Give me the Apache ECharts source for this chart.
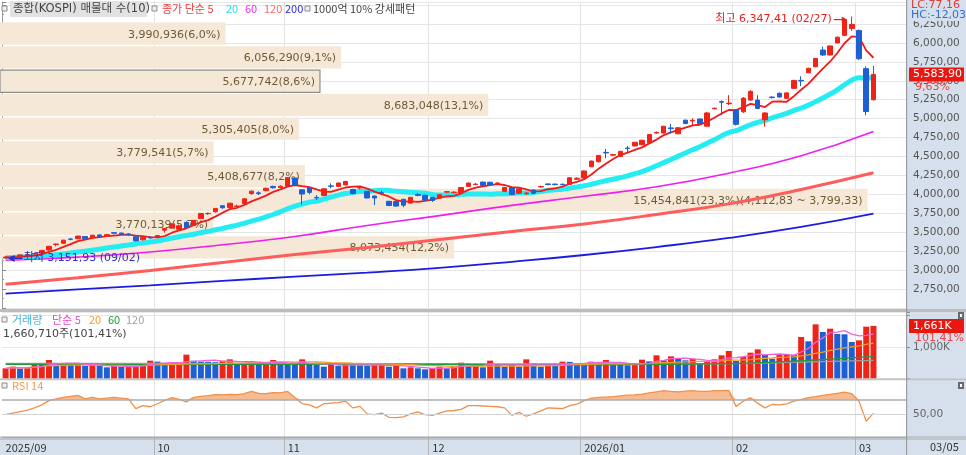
<!DOCTYPE html>
<html><head><meta charset="utf-8">
<script src="https://cdn.jsdelivr.net/npm/echarts@6/dist/echarts.min.js"></script>
<style>html,body{margin:0;padding:0;background:#fff}#c{width:966px;height:455px}</style>
</head><body><div id="c"></div>
<script>
// ---------------- DATA ----------------
const dates = [
'2025-09-02','2025-09-03','2025-09-04','2025-09-05','2025-09-08','2025-09-09','2025-09-10','2025-09-11','2025-09-12','2025-09-15',
'2025-09-16','2025-09-17','2025-09-18','2025-09-19','2025-09-22','2025-09-23','2025-09-24','2025-09-25','2025-09-26','2025-09-29','2025-09-30',
'2025-10-01','2025-10-02','2025-10-10','2025-10-13','2025-10-14','2025-10-15','2025-10-16','2025-10-17','2025-10-20','2025-10-21',
'2025-10-22','2025-10-23','2025-10-24','2025-10-27','2025-10-28','2025-10-29','2025-10-30','2025-10-31',
'2025-11-03','2025-11-04','2025-11-05','2025-11-06','2025-11-07','2025-11-10','2025-11-11','2025-11-12','2025-11-13','2025-11-14',
'2025-11-17','2025-11-18','2025-11-19','2025-11-20','2025-11-21','2025-11-24','2025-11-25','2025-11-26','2025-11-27','2025-11-28',
'2025-12-01','2025-12-02','2025-12-03','2025-12-04','2025-12-05','2025-12-08','2025-12-09','2025-12-10','2025-12-11','2025-12-12',
'2025-12-15','2025-12-16','2025-12-17','2025-12-18','2025-12-19','2025-12-22','2025-12-23','2025-12-24','2025-12-26','2025-12-29','2025-12-30',
'2026-01-02','2026-01-05','2026-01-06','2026-01-07','2026-01-08','2026-01-09','2026-01-12','2026-01-13','2026-01-14','2026-01-15',
'2026-01-16','2026-01-19','2026-01-20','2026-01-21','2026-01-22','2026-01-23','2026-01-26','2026-01-27','2026-01-28','2026-01-29','2026-01-30',
'2026-02-02','2026-02-03','2026-02-04','2026-02-05','2026-02-06','2026-02-09','2026-02-10','2026-02-11','2026-02-12','2026-02-13',
'2026-02-19','2026-02-20','2026-02-23','2026-02-24','2026-02-25','2026-02-26','2026-02-27',
'2026-03-03','2026-03-04','2026-03-05'
];
const padCats = ['p1','p2','p3','p4'];

const opens = [
3160,3175,3170,3200,3212,3225,3265,3338,3355,3410,
3415,3445,3425,3465,3450,3495,3490,3478,3440,3400,
3435,
3430,3528,3556,3540,3630,3590,3680,3745,3770,3850,
3825,3840,3880,4010,4020,4050,4105,4090,
4110,4215,4060,4090,3960,3985,4112,4105,4125,4065,
4085,4040,3978,4022,3908,3905,3935,3885,4000,3988,
3960,3950,4030,4025,4018,4105,4130,4162,4160,4145,
4040,4090,4015,4010,4058,4098,4138,4136,4135,4132,
4200,
4215,4365,4430,4555,4518,4500,4612,4640,4655,4680,
4810,4810,4878,4800,4980,4970,4995,4900,5130,5225,
5198,
5110,5090,5245,5245,4985,5285,5335,5268,5400,5505,
5605,5685,5905,5840,6000,6100,6190,
6165,5660,5250
];
const closes = [
3172.35,3164.63,3200.83,3205.12,3219.59,3260.05,3314.53,3344.70,3395.54,3407.31,
3449.62,3413.28,3461.30,3445.24,3468.65,3486.19,3472.14,3471.11,3386.05,3431.21,
3424.60,
3455.83,3549.21,3610.60,3584.55,3561.81,3657.28,3748.37,3748.89,3814.69,3823.84,
3883.68,3845.56,3941.59,4042.83,4010.41,4081.15,4086.89,4107.50,
4221.87,4121.74,4004.42,4026.45,3953.76,4073.24,4106.39,4150.39,4170.63,4011.57,
4089.25,3953.62,3952,4015,3853.26,3846.06,3857.78,3960.87,3986.91,3926.59,
3920,3995,4036,4030,4090,4150,4135,4118,4125,4150,
4092,4000,4072,4018,4015,4105,4130,4129,4128,4220,
4214.17,
4309,4440,4515,4548,4525,4568,4605,4688,4715,4790,
4818,4900,4868,4880,4935,4978,4935,5075,5138,5218,
5205,
4925,5270,5360,5135,5075,5278,5285,5340,5505,5498,
5665,5795,5840,5960,6075,6307.33,6245,
5790,5093.4,5583.90
];
const highs = [
3180,3185,3205,3222,3225,3265,3320,3350,3400,3425,
3455,3450,3465,3470,3475,3500,3495,3490,3445,3440,
3442,
3460,3555,3617,3600,3646,3660,3752,3760,3820,3855,
3890,3865,3950,4050,4040,4090,4115,4120,
4226,4225,4070,4100,3990,4080,4145,4155,4180,4075,
4100,4045,3990,4050,3915,3912,3940,3965,4015,3995,
3968,4000,4045,4040,4095,4155,4150,4170,4168,4160,
4098,4095,4078,4030,4065,4115,4145,4142,4140,4225,
4225,
4315,4445,4520,4600,4535,4572,4640,4692,4720,4795,
4830,4905,4930,4885,4985,5004,5000,5090,5145,5240,
5310,
5125,5285,5375,5310,5085,5295,5345,5348,5512,5560,
5672,5800,5950,5965,6085,6320,6347.41,
6175,5690,5695
];
const lows = [
3151.93,3155,3165,3195,3200,3218,3258,3315,3348,3395,
3410,3400,3420,3435,3445,3470,3465,3455,3380,3395,
3415,
3425,3495,3545,3520,3550,3585,3675,3730,3760,3810,
3810,3830,3875,3995,3990,4040,4075,4080,
4105,4110,3867,4000,3925,3975,4080,4095,4120,4000,
4065,3945,3860,3990,3845,3835,3830,3880,3975,3915,
3900,3940,4015,4010,4010,4098,4120,4110,4115,4135,
4030,3990,4005,3995,4005,4090,4120,4118,4120,4128,
4190,
4210,4360,4425,4476,4510,4495,4550,4635,4650,4675,
4800,4805,4806,4795,4930,4915,4930,4895,5125,5050,
5180,
4910,5075,5235,5125,4895,5265,5280,5262,5395,5430,
5600,5680,5830,5835,5995,6090,6160,
5775,5045,5240
];
// volume in thousands of shares
const volumes = [
321,374,311,353,426,458,584,458,462,455,
460,395,426,395,353,395,370,378,385,479,
563,
532,458,462,468,753,563,532,525,515,563,
605,479,485,532,479,490,584,458,
450,440,605,458,426,374,458,395,458,426,
420,395,440,445,374,426,321,353,321,290,
321,374,321,395,500,395,426,353,563,426,
374,426,374,605,479,374,426,420,532,525,
458,
450,532,525,584,458,426,416,422,595,542,
732,574,700,626,574,626,489,542,605,732,
868,
553,679,816,921,753,626,753,760,750,1311,
1174,1711,1468,1574,1405,1395,1153,
1205,1637.6,1660.71
];
const rsi14 = [
50,52,54,56,59,63,68.7,71,73,74.5,
75.8,71,73,71,72,73,72,71,58,62,
60.5,64.5,69,72.7,70.5,67,73,74.5,75.5,76.7,
76.5,77,76.7,78,81,78.5,78,79.5,79,81,
73,64.6,63,59,64.5,65.5,66,68,59,61,
51,50,52,46.4,46,47,51,53.6,50,49,
52,55,55.5,57,62,62,61.5,61,60.5,59,
49,53,47.8,51,55,59,58.5,58,62,64,
68.7,72,73,73.5,74,75,76,76.5,77.5,79,
80.5,82,81,80.5,81.5,82,81,81,82,82.2,
82.4,61,68,72.7,65,59,63.5,63,64.5,68,
70,72.7,74,75.8,77,78.5,80,78,67.8,41,
52
];
// moving-average readings where history before the window is not on the chart
const ma5Head  = [[0,3170],[1,3168],[2,3176],[3,3186]];
const ma20Head = [[0,3165],[5,3187],[10,3238],[15,3306],[18,3346]];
const ma60Pts  = [[0,3130],[10,3172],[20,3240],[30,3335],[40,3445],[50,3590],[60,3720],[70,3855],[80,3975],[90,4100],[100,4280],[110,4510],[120,4830]];
const ma120Pts = [[0,2815],[10,2900],[20,2995],[30,3100],[40,3205],[50,3300],[60,3405],[70,3510],[80,3610],[90,3735],[100,3875],[110,4065],[120,4285]];
const ma200Pts = [[0,2690],[10,2745],[20,2800],[30,2857],[40,2915],[50,2968],[60,3030],[70,3110],[80,3200],[90,3305],[100,3425],[110,3570],[120,3745]];
const volMa60Pts  = [[0,450],[10,445],[20,440],[30,445],[40,450],[50,455],[60,450],[70,440],[80,435],[90,450],[100,470],[110,560],[120,700]];
const volMa120Pts = [[0,480],[10,478],[20,475],[30,472],[40,470],[50,468],[60,465],[70,462],[80,460],[90,462],[100,470],[110,520],[120,575]];
// volume-at-price bands (bottom to top)
const bandVolumes = [8073454,3770139,15454841,5408677,3779541,5305405,8683048,5677742,6056290,3990936];
const bandLow = 3172.33, bandStep = 313.5;
const highInfo = {idx:117, value:6347.41, label:'02/27'};
const lowInfo  = {idx:0, value:3151.93, label:'09/02'};
const lcText = 'LC:77,16', hcText = 'HC:-12,03';

// ---------------- HELPERS ----------------
const FN = "'DejaVu Sans','Noto Sans CJK KR',sans-serif";
const FK = "'Noto Sans CJK KR','DejaVu Sans',sans-serif";
const RED = '#ee2419', BLUE = '#1f5fd4';
function grp(s){ return String(s).replace(/\B(?=(\d{3})+(?!\d))/g, ','); }
function fmt2(v){ const p = v.toFixed(2).split('.'); return grp(p[0]) + ',' + p[1]; }
function fmt1(v){ return v.toFixed(1).replace('.', ','); }
function smaFull(arr, n, from){ const out=[]; for(let i=from;i<arr.length;i++){ let t=0; for(let k=i-n+1;k<=i;k++) t+=arr[k]; out.push([i, +(t/n).toFixed(2)]); } return out; }
function smaPartial(arr, n){ return arr.map((_,i)=>{ const s=Math.max(0,i-n+1); let t=0; for(let k=s;k<=i;k++) t+=arr[k]; return +(t/(i-s+1)).toFixed(2); }); }

const N = dates.length;
const cats = dates.concat(padCats);
const monthLabel = {};
dates.forEach((d,i)=>{ if(i===0 || d.slice(0,7)!==dates[i-1].slice(0,7)) monthLabel[i] = (i===0 || d.slice(5,7)==='01') ? d.slice(0,4)+'/'+d.slice(5,7) : d.slice(5,7); });
const isMonth = (i)=> monthLabel[i] !== undefined;
const isMonthLine = (i)=> i!==0 && monthLabel[i] !== undefined;

const candles = dates.map((d,i)=>[opens[i], closes[i], lows[i], highs[i]]);
const ma5 = ma5Head.concat(smaFull(closes, 5, 4));
const ma20 = ma20Head.concat(smaFull(closes, 20, 19));
const volBars = volumes.map((v,i)=>({value:v, itemStyle:{color: (i===0 || v>=volumes[i-1]) ? RED : BLUE}}));
const volMa5 = smaPartial(volumes, 5);
const volMa20 = smaPartial(volumes, 20);
const rsiFill = rsi14.map(v=>Math.max(v,70));

const bandTotal = bandVolumes.reduce((a,b)=>a+b,0);
const bandMaxI = bandVolumes.indexOf(Math.max.apply(null,bandVolumes));
const lastClose = closes[N-1];
const bandData = bandVolumes.map((v,i)=>{
  const lo = bandLow + i*bandStep, hi = lo + bandStep;
  const cur = (lastClose>=lo && lastClose<hi) ? 1 : 0;
  return [v/1e6, lo, hi, cur];
});
const bandLabels = bandVolumes.map((v,i)=>{
  const lo = bandLow + i*bandStep, hi = lo + bandStep;
  let s = grp(v) + '(' + fmt1(v/bandTotal*100) + '%)';
  if(i===bandMaxI) s += '(' + fmt2(hi) + ' ~ ' + fmt2(lo) + ')';
  return s;
});

// ---------------- CHART ----------------
const chart = echarts.init(document.getElementById('c'));
const catAxisBase = (gi)=>({
  type:'category', gridIndex:gi, data:cats, boundaryGap:true,
  axisLine:{show:false}, axisTick:{show:false}, axisLabel:{show:false},
  splitLine:{show:true, interval:(i)=>isMonthLine(i), lineStyle:{color:'#e2e2e2', width:1}}
});
const xRsi = catAxisBase(2);
xRsi.axisLine = {show:true, lineStyle:{color:'#a8a8a8'}};
xRsi.axisTick = {show:true, interval:(i)=>isMonthLine(i), length:18, lineStyle:{color:'#b4b4b4'}};
xRsi.axisLabel = {show:true, interval:(i)=>isMonth(i), formatter:(v,i)=>monthLabel[i]||'', align:'left', margin:5, color:'#333', fontSize:11, fontFamily:FK};

const option = {
  animation:false,
  backgroundColor:'#ffffff',
  grid:[
    {left:2, right:60, top:2, height:306},
    {left:2, right:60, top:312, height:66.5},
    {left:2, right:60, top:381, height:56}
  ],
  xAxis:[
    catAxisBase(0),
    {type:'value', gridIndex:0, min:0, max:904/56, show:false},
    catAxisBase(1),
    xRsi
  ],
  yAxis:[
    {type:'value', gridIndex:0, position:'right', min:2500, max:6540, interval:250, scale:false,
     axisLine:{show:true, lineStyle:{color:'#9c9c9c'}},
     axisTick:{show:true, length:4, lineStyle:{color:'#8a8a8a'}},
     minorTick:{show:true, splitNumber:2, length:2, lineStyle:{color:'#9a9a9a'}},
     axisLabel:{color:'#555', fontSize:10.5, fontFamily:FN, margin:7, formatter:(v)=> (v<=2500||v>=6500)?'':fmt2(v)},
     splitLine:{show:true, lineStyle:{color:'#e6e6e6'}}},
    {type:'value', gridIndex:1, position:'right', min:0, max:2100, interval:1000,
     axisLine:{show:true, lineStyle:{color:'#9c9c9c'}},
     axisTick:{show:true, length:4, lineStyle:{color:'#8a8a8a'}},
     axisLabel:{color:'#666', fontSize:10.5, fontFamily:FN, margin:7, formatter:(v)=> v===1000 ? grp(v)+'K' : ''},
     splitLine:{show:true, lineStyle:{color:'#e8e8e8'}}},
    {type:'value', gridIndex:2, position:'right', min:20, max:95, interval:10,
     axisLine:{show:true, lineStyle:{color:'#9c9c9c'}},
     axisTick:{show:false},
     axisLabel:{color:'#666', fontSize:10.5, fontFamily:FN, margin:7, formatter:(v)=> v===50 ? fmt2(v) : ''},
     splitLine:{show:false}}
  ],
  series:[
    {type:'custom', name:'bands', xAxisIndex:1, yAxisIndex:0, data:bandData, encode:{x:0, y:[1,2]}, z:1, silent:true,
     renderItem:(params, api)=>{
       const v=api.value(0), lo=api.value(1), hi=api.value(2), cur=api.value(3);
       const p0=api.coord([0,hi]), p1=api.coord([v,lo]);
       const top=p0[1]+3, bot=p1[1]+1.5, x0=p0[0]-2;
       const ch=[{type:'rect', shape:{x:x0, y:top, width:p1[0]-x0, height:bot-top},
                  style:{fill:'#f5e8d6', stroke: cur? '#8e8e8e' : null, lineWidth: cur?1.2:0}},
                 {type:'text', style:{text:bandLabels[params.dataIndex], x:p1[0]-5, y:(top+bot)/2+1, align:'right', verticalAlign:'middle',
                  textAlign:'right', textVerticalAlign:'middle', fill:'#6e5a36', font:'11px '+FN}}];
       return {type:'group', children:ch};
     }},
    {type:'line', name:'MA200', xAxisIndex:0, yAxisIndex:0, data:ma200Pts, smooth:true, showSymbol:false, lineStyle:{color:'#1c1ce0', width:1.8}, z:3, silent:true},
    {type:'line', name:'MA120', xAxisIndex:0, yAxisIndex:0, data:ma120Pts, smooth:true, showSymbol:false, lineStyle:{color:'#ff5c5c', width:3}, z:3, silent:true},
    {type:'line', name:'MA60', xAxisIndex:0, yAxisIndex:0, data:ma60Pts, smooth:true, showSymbol:false, lineStyle:{color:'#f01cf0', width:1.6}, z:3, silent:true},
    {type:'line', name:'MA20', xAxisIndex:0, yAxisIndex:0, data:ma20, smooth:true, showSymbol:false, lineStyle:{color:'#25ecf2', width:5}, z:3, silent:true},
    {type:'line', name:'MA5', xAxisIndex:0, yAxisIndex:0, data:ma5, showSymbol:false, lineStyle:{color:'#f01a1a', width:1.8}, z:4, silent:true},
    {type:'candlestick', name:'KOSPI', xAxisIndex:0, yAxisIndex:0, data:candles, barWidth:5, z:5,
     itemStyle:{color:RED, color0:BLUE, borderColor:RED, borderColor0:BLUE, borderWidth:1}},
    {type:'bar', name:'거래량', xAxisIndex:2, yAxisIndex:1, data:volBars, barWidth:6, z:2},
    {type:'line', name:'VMA120', xAxisIndex:2, yAxisIndex:1, data:volMa120Pts, smooth:true, showSymbol:false, lineStyle:{color:'#9e9e9e', width:1.3}, z:3, silent:true},
    {type:'line', name:'VMA60', xAxisIndex:2, yAxisIndex:1, data:volMa60Pts, smooth:true, showSymbol:false, lineStyle:{color:'#1e9a3c', width:1.3}, z:3, silent:true},
    {type:'line', name:'VMA20', xAxisIndex:2, yAxisIndex:1, data:volMa20, showSymbol:false, lineStyle:{color:'#f0a020', width:1.3}, z:3, silent:true},
    {type:'line', name:'VMA5', xAxisIndex:2, yAxisIndex:1, data:volMa5, showSymbol:false, lineStyle:{color:'#f062d8', width:1.3}, z:3, silent:true},
    {type:'line', name:'RSIfill', xAxisIndex:3, yAxisIndex:2, data:rsiFill, showSymbol:false, lineStyle:{width:0, opacity:0},
     areaStyle:{origin:70, color:'#f6bb90', opacity:1}, z:2, silent:true},
    {type:'line', name:'RSI 14', xAxisIndex:3, yAxisIndex:2, data:rsi14, showSymbol:false, lineStyle:{color:'#f2904a', width:1.3}, z:3, silent:true,
     markLine:{silent:true, symbol:'none', label:{show:false},
       data:[{yAxis:70, lineStyle:{color:'#ababab', width:1.5, type:'solid'}}, {yAxis:50, lineStyle:{color:'#d4d4d4', width:1, type:'solid'}}]}}
  ]
};
chart.setOption(option);

// ---------------- TEXT / ANNOTATIONS ----------------
function T(x,y,text,fill,font,align,extra){
  const al = align||'left';
  return {type:'text', z:100, style:Object.assign({x:x, y:y, text:text, fill:fill, font:font, align:al, verticalAlign:'middle', textAlign:al, textVerticalAlign:'middle'}, extra||{})};
}
function R(x,y,w,h,fill,z,stroke){ return {type:'rect', z:(z==null?-100:z), shape:{x:x,y:y,width:w,height:h}, style:{fill:fill, stroke:stroke||null, lineWidth:stroke?1:0}}; }
function icon(x,y){ return R(x,y,5,5,'#f0f0f0',100,'#8c8c8c'); }

const g = [];
// backgrounds
g.push(R(907,0,59,455,'#d6e0ec',-100));
g.push(R(0,438,907,17,'#d6e0ec',-100));
g.push(R(0,309,966,3,'#bdbdbd',90));
g.push(R(0,378.6,966,1.6,'#c2c2c2',90));
g.push(R(0,436.6,966,1,'#a9a9a9',90));
g.push(R(0,438.4,966,1,'#a9a9a9',90));
g.push(R(906,0,1.2,455,'#9c9c9c',90));
// header legend
const LF = '11px '+FK;
g.push(icon(2,6));
g.push(R(10,1,137,16,'#e2e2e2',95));
g.push(T(13,9,'종합(KOSPI) 매물대 수(10)','#444','11.5px '+FN));
g.push(icon(152,6));
g.push(T(162,9,'종가 단순 5','#f03c3c',LF));
g.push(T(226,9,'20','#22dcea',LF));
g.push(T(245,9,'60','#ee2cee',LF));
g.push(T(264,9,'120','#ff6a6a',LF));
g.push(T(285,9,'200','#2a2ae6',LF));
g.push(icon(305,6));
g.push(T(313,9,'1000억 10% 강세패턴','#444',LF));
// volume legend
g.push(icon(2,317));
g.push(T(12,320,'거래량','#48b4d4',LF));
g.push(T(52,320,'단순 5','#e24cc8',LF));
g.push(T(89,320,'20','#f0a020',LF));
g.push(T(108,320,'60','#1e9a3c',LF));
g.push(T(126,320,'120','#a0a0a0',LF));
const lastVol = volumes[N-1], prevVol = volumes[N-2];
g.push(T(3,334, grp(Math.round(lastVol*1000))+'주('+fmt2(lastVol/prevVol*100)+'%)','#444','11px '+FN));
// rsi legend
g.push(icon(2,383));
g.push(T(12,386,'RSI 14','#f29a55',LF));
// right column texts
g.push(T(911,5,lcText,'#e53935','11px '+FN));
g.push(T(911,15.5,hcText,'#2f6fd8','11px '+FN,'left',{backgroundColor:'#d6e0ec', padding:[0,12,0,0]}));
g.push(T(930,447, dates[N-1].slice(5).replace('-','/'),'#333','11px '+FK));
// small panel icons
g.push(R(958,312,6,7,'#6a6a6a',100)); g.push(R(960,314,2,3,'#ffffff',101));
g.push(R(958,382,6,7,'#6a6a6a',100)); g.push(R(960,384,2,3,'#ffffff',101));

// price label
const pc = chart.convertToPixel({xAxisIndex:0, yAxisIndex:0}, [N-1, lastClose]);
g.push(R(909, pc[1]-7, 55, 14, '#e8170f', 99));
g.push(T(913, pc[1], fmt2(lastClose), '#ffffff', '11px '+FN));
g.push(T(915, pc[1]+12.5, fmt2((lastClose/closes[N-2]-1)*100)+'%', '#f04040', '11px '+FN));
// volume label
const pv = chart.convertToPixel({xAxisIndex:2, yAxisIndex:1}, [N-1, lastVol]);
g.push(R(909, pv[1]-7, 55, 14, '#e8170f', 99));
g.push(T(913, pv[1], grp(Math.round(lastVol))+'K', '#ffffff', '11px '+FN));
g.push(T(915, pv[1]+12, fmt2(lastVol/prevVol*100)+'%', '#f04040', '11px '+FN));

// high annotation
const ph = chart.convertToPixel({xAxisIndex:0, yAxisIndex:0}, [highInfo.idx, highInfo.value]);
const hy = ph[1]+3;
g.push(T(ph[0]-20, hy-0.5, '최고 '+fmt2(highInfo.value)+' ('+highInfo.label+')', '#e8201a', '11px '+FN, 'right'));
g.push({type:'line', z:100, shape:{x1:ph[0]-18, y1:hy, x2:ph[0]-9, y2:hy}, style:{stroke:'#e8201a', lineWidth:1.2}});
g.push({type:'polygon', z:100, shape:{points:[[ph[0]-5,hy],[ph[0]-10,hy-3],[ph[0]-10,hy+3]]}, style:{fill:'#e8201a'}});
// low annotation
const pl = chart.convertToPixel({xAxisIndex:0, yAxisIndex:0}, [lowInfo.idx, lowInfo.value]);
const ly = pl[1];
g.push({type:'polygon', z:100, shape:{points:[[pl[0]+2.5,ly],[pl[0]+9,ly-3.5],[pl[0]+9,ly+3.5]]}, style:{fill:'#2a2ad8'}});
g.push({type:'line', z:100, shape:{x1:pl[0]+9, y1:ly, x2:pl[0]+17, y2:ly}, style:{stroke:'#2a2ad8', lineWidth:1.2}});
g.push(T(pl[0]+18, ly, '최저 '+fmt2(lowInfo.value)+' ('+lowInfo.label+')', '#3030d8', '11px '+FN));

chart.setOption({graphic:g});
</script>
</body></html>
